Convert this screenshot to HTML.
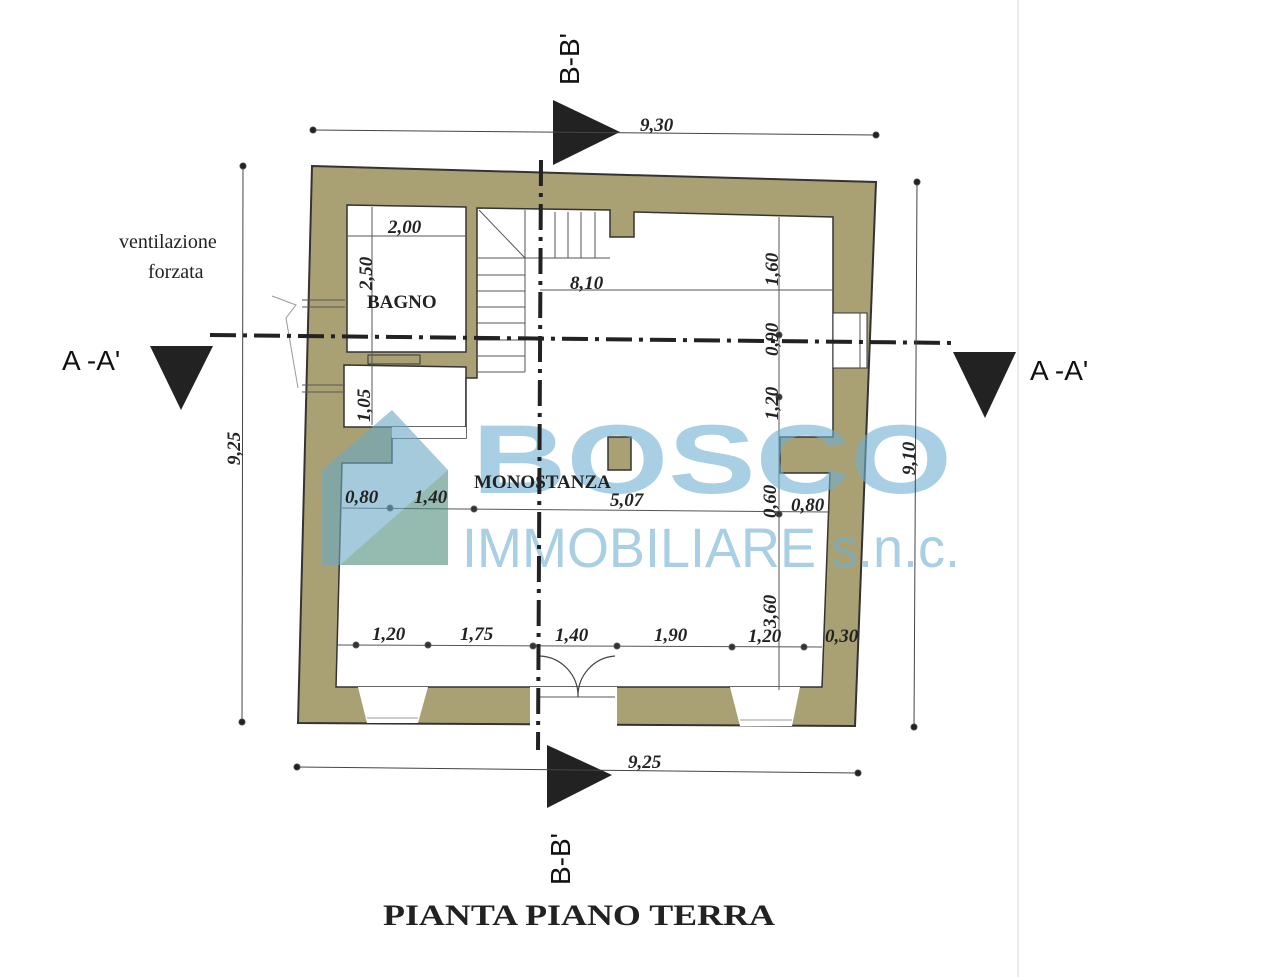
<!DOCTYPE html>
<html><head><meta charset="utf-8"><style>
html,body{margin:0;padding:0;background:#fff;}
svg{display:block;}
.d{font-family:"Liberation Serif",serif;font-weight:bold;font-style:italic;font-size:19px;fill:#222;}
.s{font-family:"Liberation Sans",sans-serif;font-size:28px;fill:#111;}
</style></head><body>
<svg width="1280" height="977" viewBox="0 0 1280 977" xmlns="http://www.w3.org/2000/svg">
<rect width="1280" height="977" fill="#fff"/>
<line x1="1018" y1="0" x2="1018" y2="977" stroke="#e6e6e6" stroke-width="1.5"/>

<!-- outer walls -->
<polygon points="312,166 876,182 855,726 298,723" fill="#a9a173" stroke="#333" stroke-width="2"/>
<!-- bathroom -->
<polygon points="347,205 466,207 466,352 347,352" fill="#fff" stroke="#333" stroke-width="1.5"/>
<!-- closet -->
<polygon points="344,365 466,367 466,427 344,427" fill="#fff" stroke="#333" stroke-width="1.5"/>
<polygon points="368,355 420,355 420,364 368,364" fill="#a9a173" stroke="#333" stroke-width="1"/>
<!-- main room -->
<polygon points="477,208 610,210 610,237 634,237 634,212 833,217 833,437 780,437 780,473 830,473 822,687 336,687 342,463 392,463 392,438 466,438 466,378 477,378" fill="#fff" stroke="#333" stroke-width="1.5"/>
<polygon points="392,438 466,438 466,427 392,427" fill="#fff"/>
<!-- central pillar -->
<rect x="608" y="437" width="23" height="33" fill="#a9a173" stroke="#333" stroke-width="1.5"/>
<!-- right window -->
<rect x="833" y="313" width="34" height="55" fill="#fff" stroke="#333" stroke-width="1"/>
<line x1="860" y1="313" x2="860" y2="368" stroke="#555"/>
<!-- bottom openings -->
<polygon points="358,687 428,687 418,723 367,723" fill="#fff"/>
<polygon points="530,687 617,687 617,726 530,726" fill="#fff"/>
<polygon points="730,687 800,687 792,726 740,726" fill="#fff"/>
<line x1="367" y1="718" x2="418" y2="718" stroke="#999"/>
<line x1="740" y1="720" x2="792" y2="720" stroke="#999"/>
<line x1="540" y1="697" x2="615" y2="697" stroke="#555"/>
<path d="M540,656 A40,40 0 0 1 578,697 M615,656 A40,40 0 0 0 578,697" fill="none" stroke="#444" stroke-width="1.2"/>
<!-- vent lines -->
<line x1="302" y1="300" x2="345" y2="300" stroke="#555"/><line x1="302" y1="307" x2="345" y2="307" stroke="#555"/>
<line x1="302" y1="385" x2="345" y2="385" stroke="#555"/><line x1="302" y1="392" x2="345" y2="392" stroke="#555"/>
<path d="M272,296 L296,305 L286,318 L298,388" fill="none" stroke="#999"/>

<!-- stairs -->
<g stroke="#555" stroke-width="1" fill="none">
<line x1="479" y1="210" x2="525" y2="258"/><line x1="525" y1="210" x2="525" y2="372"/>
<line x1="477" y1="258" x2="525" y2="258"/><line x1="477" y1="275" x2="525" y2="275"/><line x1="477" y1="291" x2="525" y2="291"/>
<line x1="477" y1="307" x2="525" y2="307"/><line x1="477" y1="323" x2="525" y2="323"/><line x1="477" y1="340" x2="525" y2="340"/><line x1="477" y1="356" x2="525" y2="356"/><line x1="477" y1="372" x2="525" y2="372"/>
<line x1="525" y1="258" x2="610" y2="258"/>
<line x1="555" y1="212" x2="555" y2="258"/><line x1="568" y1="212" x2="568" y2="258"/><line x1="581" y1="212" x2="581" y2="258"/><line x1="595" y1="212" x2="595" y2="258"/>
</g>

<!-- inner dims -->
<g stroke="#555" stroke-width="1" fill="#333">
<line x1="372" y1="207" x2="372" y2="425"/>
<line x1="347" y1="236" x2="466" y2="236"/>
<line x1="540" y1="290" x2="833" y2="290"/>
<line x1="779" y1="217" x2="779" y2="690"/>
<line x1="342" y1="508" x2="830" y2="512"/>
<line x1="338" y1="645" x2="822" y2="647"/>
<circle cx="779" cy="335" r="3"/><circle cx="779" cy="397" r="3"/><circle cx="779" cy="514" r="3"/>
<circle cx="390" cy="508" r="3"/><circle cx="474" cy="509" r="3"/>
<circle cx="356" cy="645" r="3"/><circle cx="428" cy="645" r="3"/><circle cx="533" cy="646" r="3"/><circle cx="617" cy="646" r="3"/><circle cx="732" cy="647" r="3"/><circle cx="804" cy="647" r="3"/>
</g>

<!-- watermark -->
<g opacity="0.6">
<polygon points="322,470 392,410 448,470 448,565 322,565" fill="#6aa8c4"/>
<polygon points="340,565 448,470 448,565" fill="#4f8f7e"/>
</g>
<text x="472" y="493" font-family="Liberation Sans,sans-serif" font-weight="bold" font-size="98" fill="#6fb0d2" opacity="0.6" textLength="480" lengthAdjust="spacingAndGlyphs">BOSCO</text>
<text x="462" y="567" font-family="Liberation Sans,sans-serif" font-size="56" fill="#6fb0d2" opacity="0.6" textLength="498" lengthAdjust="spacingAndGlyphs">IMMOBILIARE s.n.c.</text>

<!-- section A-A' -->
<line x1="210" y1="335" x2="955" y2="343" stroke="#222" stroke-width="4" stroke-dasharray="26,7,4,7"/>
<polygon points="150,346 213,346 181,410" fill="#222"/>
<polygon points="953,352 1016,352 985,418" fill="#222"/>
<text x="62" y="370" class="s">A -A'</text>
<text x="1030" y="380" class="s">A -A'</text>
<!-- section B-B' -->
<line x1="541" y1="160" x2="538" y2="750" stroke="#222" stroke-width="4" stroke-dasharray="26,7,4,7"/>
<polygon points="553,100 553,165 620,132" fill="#222"/>
<polygon points="547,745 547,808 612,775" fill="#222"/>
<text transform="translate(579,85) rotate(-90)" class="s">B-B'</text>
<text transform="translate(570,885) rotate(-90)" class="s">B-B'</text>

<!-- outer dims -->
<g stroke="#444" stroke-width="1" fill="#222">
<line x1="313" y1="130" x2="876" y2="135"/><circle cx="313" cy="130" r="3"/><circle cx="876" cy="135" r="3"/>
<line x1="297" y1="767" x2="858" y2="773"/><circle cx="297" cy="767" r="3"/><circle cx="858" cy="773" r="3"/>
<line x1="243" y1="166" x2="242" y2="722"/><circle cx="243" cy="166" r="3"/><circle cx="242" cy="722" r="3"/>
<line x1="917" y1="182" x2="914" y2="727"/><circle cx="917" cy="182" r="3"/><circle cx="914" cy="727" r="3"/>
</g>
<text x="640" y="131" class="d" font-size="17">9,30</text>
<text x="628" y="768" class="d" font-size="17">9,25</text>
<text transform="translate(240,465) rotate(-90)" class="d" font-size="17">9,25</text>
<text transform="translate(915,475) rotate(-90)" class="d" font-size="17">9,10</text>

<!-- labels -->
<text x="388" y="233" class="d">2,00</text>
<text transform="translate(372,290) rotate(-90)" class="d">2,50</text>
<text x="367" y="308" font-family="Liberation Serif,serif" font-weight="bold" font-size="19" fill="#222">BAGNO</text>
<text transform="translate(370,422) rotate(-90)" class="d">1,05</text>
<text x="570" y="289" class="d">8,10</text>
<text transform="translate(778,286) rotate(-90)" class="d">1,60</text>
<text transform="translate(778,356) rotate(-90)" class="d">0,90</text>
<text transform="translate(778,420) rotate(-90)" class="d">1,20</text>
<text x="474" y="488" font-family="Liberation Serif,serif" font-weight="bold" font-size="19" fill="#222">MONOSTANZA</text>
<text x="345" y="503" class="d">0,80</text>
<text x="414" y="503" class="d">1,40</text>
<text x="610" y="506" class="d">5,07</text>
<text transform="translate(776,518) rotate(-90)" class="d">0,60</text>
<text x="791" y="511" class="d">0,80</text>
<text transform="translate(776,628) rotate(-90)" class="d">3,60</text>
<text x="372" y="640" class="d">1,20</text>
<text x="460" y="640" class="d">1,75</text>
<text x="555" y="641" class="d">1,40</text>
<text x="654" y="641" class="d">1,90</text>
<text x="748" y="642" class="d">1,20</text>
<text x="825" y="642" class="d">0,30</text>
<text x="119" y="248" font-family="Liberation Serif,serif" font-size="20" fill="#222">ventilazione</text>
<text x="148" y="278" font-family="Liberation Serif,serif" font-size="20" fill="#222">forzata</text>
<text x="383" y="925" font-family="Liberation Serif,serif" font-weight="bold" font-size="30" fill="#222" textLength="392" lengthAdjust="spacingAndGlyphs">PIANTA PIANO TERRA</text>
</svg>
</body></html>
